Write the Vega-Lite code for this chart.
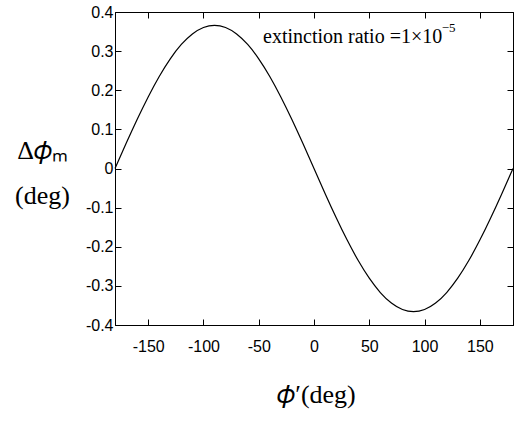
{
  "$schema": "https://vega.github.io/schema/vega-lite/v6.json",
  "autosize": {"type": "none"},
  "width": 398,
  "height": 313,
  "padding": {"left": 115, "top": 12, "right": 7, "bottom": 98},
  "background": "white",
  "config": {
    "view": {"stroke": "black", "strokeWidth": 1},
    "axis": {
      "grid": false,
      "ticks": true,
      "domainColor": "black",
      "tickColor": "black",
      "tickWidth": 1,
      "labelColor": "black",
      "labelFont": "Liberation Sans",
      "labelFontSize": 16,
      "titleColor": "black",
      "titleFont": "Liberation Serif",
      "titleFontWeight": "normal"
    }
  },
  "layer": [
    {
      "data": {
        "values": [
          {"phi": -180, "dphi": 0},
          {"phi": -170, "dphi": 0.0636},
          {"phi": -160, "dphi": 0.1252},
          {"phi": -150, "dphi": 0.183},
          {"phi": -140, "dphi": 0.2353},
          {"phi": -130, "dphi": 0.2804},
          {"phi": -120, "dphi": 0.317},
          {"phi": -110, "dphi": 0.3439},
          {"phi": -100, "dphi": 0.3604},
          {"phi": -90, "dphi": 0.366},
          {"phi": -80, "dphi": 0.3604},
          {"phi": -70, "dphi": 0.3439},
          {"phi": -60, "dphi": 0.317},
          {"phi": -50, "dphi": 0.2804},
          {"phi": -40, "dphi": 0.2353},
          {"phi": -30, "dphi": 0.183},
          {"phi": -20, "dphi": 0.1252},
          {"phi": -10, "dphi": 0.0636},
          {"phi": 0, "dphi": 0},
          {"phi": 10, "dphi": -0.0636},
          {"phi": 20, "dphi": -0.1252},
          {"phi": 30, "dphi": -0.183},
          {"phi": 40, "dphi": -0.2353},
          {"phi": 50, "dphi": -0.2804},
          {"phi": 60, "dphi": -0.317},
          {"phi": 70, "dphi": -0.3439},
          {"phi": 80, "dphi": -0.3604},
          {"phi": 90, "dphi": -0.366},
          {"phi": 100, "dphi": -0.3604},
          {"phi": 110, "dphi": -0.3439},
          {"phi": 120, "dphi": -0.317},
          {"phi": 130, "dphi": -0.2804},
          {"phi": 140, "dphi": -0.2353},
          {"phi": 150, "dphi": -0.183},
          {"phi": 160, "dphi": -0.1252},
          {"phi": 170, "dphi": -0.0636},
          {"phi": 180, "dphi": 0}
        ]
      },
      "mark": {"type": "line", "color": "black", "strokeWidth": 1.2, "interpolate": "natural"},
      "encoding": {
        "x": {
          "field": "phi", "type": "quantitative",
          "scale": {"domain": [-180, 180], "nice": false, "zero": false},
          "axis": {
            "orient": "bottom",
            "values": [-150, -100, -50, 0, 50, 100, 150],
            "labelExpr": "toString(datum.value)",
            "tickSize": -6,
            "labelPadding": 19,
            "title": "𝜙′(deg)",
            "titleFontSize": 26,
            "titleAlign": "center",
            "titleBaseline": "alphabetic",
            "titleX": 201,
            "titleY": 77
          }
        },
        "y": {
          "field": "dphi", "type": "quantitative",
          "scale": {"domain": [-0.4, 0.4], "nice": false, "zero": false},
          "axis": {
            "orient": "left",
            "values": [-0.4, -0.3, -0.2, -0.1, 0, 0.1, 0.2, 0.3, 0.4],
            "labelExpr": "datum.value == 0 ? '0' : toString(round(datum.value*10)/10)",
            "tickSize": -6,
            "labelPadding": 8,
            "title": ["Δ𝜙ₘ", "(deg)"],
            "titleFontSize": 26,
            "titleAngle": 0,
            "titleAlign": "center",
            "titleBaseline": "alphabetic",
            "titleLineHeight": 45,
            "titleX": -73,
            "titleY": 146
          }
        }
      }
    },
    {
      "data": {
        "values": [
          {"tx": -46.1, "ty": 0.3208, "label": "extinction ratio =1×10", "size": "main"},
          {"tx": 115.5, "ty": 0.35, "label": "−5", "size": "sup"}
        ]
      },
      "mark": {"type": "text", "align": "left", "baseline": "alphabetic", "font": "Liberation Serif", "color": "black"},
      "encoding": {
        "x": {
          "field": "tx", "type": "quantitative",
          "scale": {"domain": [-180, 180], "nice": false, "zero": false},
          "axis": {"orient": "top", "values": [-150, -100, -50, 0, 50, 100, 150], "labels": false, "tickSize": -6, "domain": true, "title": null}
        },
        "y": {
          "field": "ty", "type": "quantitative",
          "scale": {"domain": [-0.4, 0.4], "nice": false, "zero": false},
          "axis": {"orient": "right", "values": [-0.4, -0.3, -0.2, -0.1, 0, 0.1, 0.2, 0.3, 0.4], "labels": false, "tickSize": -6, "domain": true, "title": null}
        },
        "text": {"field": "label"},
        "size": {
          "field": "size", "type": "nominal",
          "scale": {"domain": ["main", "sup"], "range": [20, 13]},
          "legend": null
        }
      }
    }
  ],
  "resolve": {"axis": {"x": "independent", "y": "independent"}}
}
